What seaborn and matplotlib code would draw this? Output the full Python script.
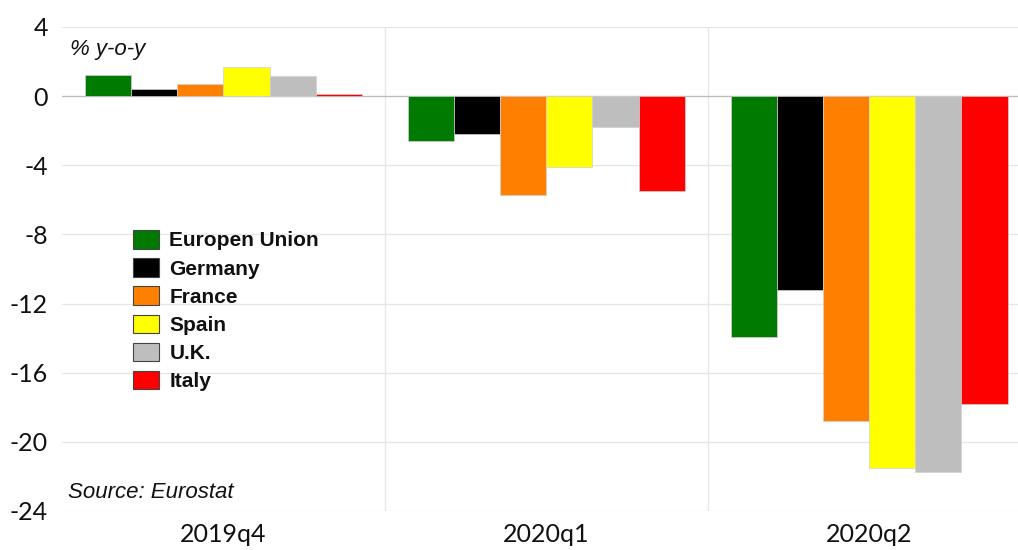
import matplotlib
matplotlib.use("Agg")
import matplotlib.pyplot as plt
from matplotlib.patches import Patch
import seaborn as sns
import pandas as pd

quarters = ["2019q4", "2020q1", "2020q2"]
countries = ["Europen Union", "Germany", "France", "Spain", "U.K.", "Italy"]
eu = [1.2, -2.6, -13.95]
germany = [0.4, -2.2, -11.2]
france = [0.7, -5.7, -18.8]
spain = [1.7, -4.1, -21.5]
uk = [1.15, -1.8, -21.75]
italy = [0.1, -5.5, -17.8]
colors = ["#007A00", "#000000", "#FF8000", "#FFFF00", "#BEBEBE", "#FF0000"]
yticks = [4, 0, -4, -8, -12, -16, -20, -24]

series = [eu, germany, france, spain, uk, italy]
rows = []
for c, vals in zip(countries, series):
    for q, v in zip(quarters, vals):
        rows.append({"quarter": q, "country": c, "value": v})
df = pd.DataFrame(rows)

sns.set_theme(style="white")
plt.rcParams["font.family"] = ["Lato", "DejaVu Sans"]

fig = plt.figure(figsize=(10.18, 5.5), dpi=100)
ax = fig.add_axes([62/1018, 1 - 511/550, (1018-62)/1018, (511-27)/550])

sns.barplot(data=df, x="quarter", y="value", hue="country", order=quarters,
            hue_order=countries, palette=colors, saturation=1, width=0.855, gap=0,
            edgecolor="#d0d0d0", linewidth=0.5, ax=ax, legend=False, zorder=3)

ax.set_ylim(-24, 4)
ax.set_xlim(-0.5, 2.46)
ax.set_yticks(yticks)
ax.set_yticklabels([str(t) for t in yticks], fontsize=18, color="#111111")
ax.tick_params(axis="both", length=0, pad=10)
ax.tick_params(axis="x", pad=9)
for lab in ax.get_xticklabels():
    lab.set_fontsize(18)
    lab.set_color("#111111")
ax.set_xlabel("")
ax.set_ylabel("")
for s in ax.spines.values():
    s.set_visible(False)

for t in yticks:
    if t == 0:
        ax.axhline(t, color="#bdbdbd", lw=1.0, zorder=2)
    else:
        ax.axhline(t, color="#e6e6e6", lw=0.9, zorder=1)
for xv in [0.5, 1.5]:
    ax.axvline(xv, color="#e6e6e6", lw=0.9, zorder=1)

handles = [Patch(facecolor=c, edgecolor="#444444", linewidth=0.8) for c in colors]
leg = ax.legend(handles, countries, loc="upper left",
                bbox_to_anchor=((133-62)/956, (511-230)/484),
                frameon=False, prop={"family": ["Liberation Sans"], "weight": "bold", "size": 15},
                handlelength=1.25, handleheight=1.0, handletextpad=0.5, labelspacing=0.37,
                borderaxespad=0, borderpad=0)
for t in leg.get_texts():
    t.set_color("#111111")

fig.text(70/1018, 1 - 50/550, "% y-o-y", fontsize=16, style="italic",
         family=["Liberation Sans"], va="center", ha="left", color="#111111")
fig.text(68/1018, 1 - 492/550, "Source: Eurostat", fontsize=16, style="italic",
         family=["Liberation Sans"], va="center", ha="left", color="#111111")

fig.savefig("out.png", dpi=100)
